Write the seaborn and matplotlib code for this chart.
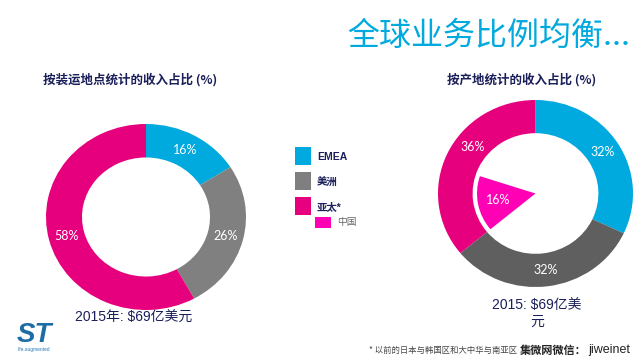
import numpy as np
import matplotlib
matplotlib.use('Agg')
import matplotlib.pyplot as plt
from matplotlib.patches import Rectangle
import seaborn as sns

# Data
regions = ['EMEA', '美洲', '亚太*']
ship_share = [16, 26, 58]      # 按装运地点
origin_share = [32, 32, 36]    # 按产地
china_share = 16               # 亚太中的中国部分
china_name = '中国'
revenue_left = '2015年: $69亿美元'
revenue_right = '2015: $69亿美\n元'

sns.set_theme(style='white')
plt.rcParams['font.family'] = ['Noto Sans CJK SC', 'DejaVu Sans']

blue = '#00A9DE'
gray_l = '#808080'
gray_r = '#5F5F5F'
pink = '#E6007E'
magenta = '#FF00B4'
navy = '#1B1F5A'

W, H = 640, 360
fig = plt.figure(figsize=(6.4, 3.6), dpi=100)
fig.patch.set_facecolor('white')


def box(cx, cy, rx, ry):
    return [(cx - rx) / W, 1 - (cy + ry) / H, 2 * rx / W, 2 * ry / H]


def fx(x, y):
    return x / W, 1 - y / H


label_style = dict(color='white', fontsize=9, family='Lato')

# Left donut
ax1 = fig.add_axes(box(146, 217, 100, 93))
_, _, pcts1 = ax1.pie(ship_share, colors=[blue, gray_l, pink], startangle=90,
                      counterclock=False, autopct='%.0f%%', pctdistance=0.82,
                      wedgeprops=dict(width=0.36, linewidth=0), textprops=label_style)
ax1.set_aspect('auto')
ax1.set_xlim(-1, 1)
ax1.set_ylim(-1, 1)
ax1.axis('off')

# Right donut
ax2 = fig.add_axes(box(535.5, 193.5, 97.5, 93.5))
_, _, pcts2 = ax2.pie(origin_share, colors=[blue, gray_r, pink], startangle=90,
                      counterclock=False, autopct='%.0f%%', pctdistance=0.82,
                      wedgeprops=dict(width=0.355, linewidth=0), textprops=label_style)
# move the 亚太 label a bit round the ring, as in the slide
t = np.deg2rad(0.855 * 360)
pcts2[2].set_position((0.82 * np.sin(t), 0.82 * np.cos(t)))

# China slice inside the hole
inner = origin_share[:2] + [china_share, origin_share[2] - china_share]
_, _, pcts3 = ax2.pie(inner, colors=['none', 'none', magenta, 'none'], radius=0.6,
                      startangle=90, counterclock=False, autopct='%.0f%%',
                      pctdistance=0.65, wedgeprops=dict(linewidth=0),
                      textprops=label_style)
for i, p in enumerate(pcts3):
    p.set_visible(i == 2)
ax2.set_aspect('auto')
ax2.set_xlim(-1, 1)
ax2.set_ylim(-1, 1)
ax2.axis('off')

# Titles
fig.text(*fx(347, 36), '全球业务比例均衡...', color=blue, fontsize=23,
         ha='left', va='center')
fig.text(*fx(130, 80), '按装运地点统计的收入占比 (%)', color=navy, fontsize=9,
         fontweight='bold', ha='center', va='center')
fig.text(*fx(522, 80), '按产地统计的收入占比 (%)', color=navy, fontsize=9,
         fontweight='bold', ha='center', va='center')

# Revenue notes
mixed = ['Liberation Sans', 'Noto Sans CJK SC']
fig.text(*fx(75, 318), revenue_left, color=navy, fontsize=10, family=mixed,
         ha='left', va='center')
fig.text(*fx(537, 313), revenue_right, color=navy, fontsize=10, family=mixed,
         ha='center', va='center', linespacing=1.25)

# Legend
legend_colors = [blue, '#7F7F7F', pink]
for i, (name, c) in enumerate(zip(regions, legend_colors)):
    top = 147 + i * 25
    fig.add_artist(Rectangle(fx(295, top + 18), 16 / W, 18 / H,
                             transform=fig.transFigure, color=c, lw=0))
    fig.text(*fx(317, top + 10), name, color=navy, fontsize=7.5,
             fontweight='bold', family=mixed, ha='left', va='center')
fig.add_artist(Rectangle(fx(315, 228), 16 / W, 11 / H,
                         transform=fig.transFigure, color=magenta, lw=0))
fig.text(*fx(337, 222), china_name, color='#666666', fontsize=7,
         ha='left', va='center')

# Footer
fig.text(*fx(369, 350), '* 以前的日本与韩国区和大中华与南亚区', color='#444444',
         fontsize=6, ha='left', va='center')
fig.text(*fx(520, 350), '集微网微信：', color='#222222', fontsize=8,
         fontweight='bold', ha='left', va='center')
fig.text(*fx(588, 350), 'jiweinet', color='#222222', fontsize=9,
         family='Liberation Sans', ha='left', va='center')

# Logo
fig.text(*fx(34, 335), 'ST', color='#1C6DA5', fontsize=20, family='Liberation Sans',
         fontweight='bold', fontstyle='italic', ha='center', va='center')
fig.text(*fx(34, 350), 'life.augmented', color='#2A7AB8', fontsize=3.5,
         family='Liberation Sans', ha='center', va='center')

fig.savefig('out.png', dpi=100, facecolor='white')
